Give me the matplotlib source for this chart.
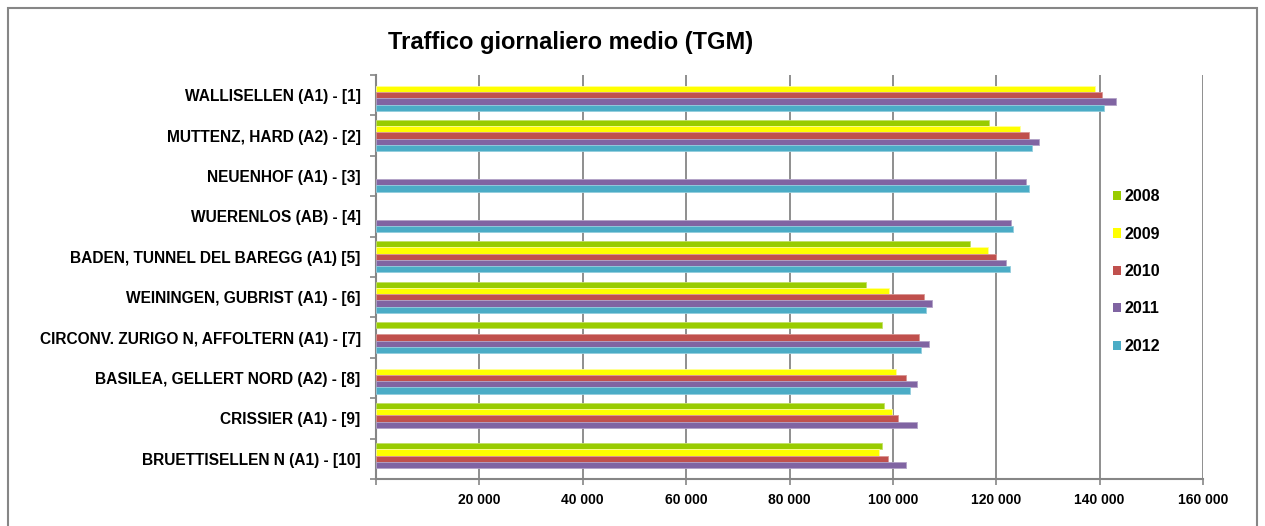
import numpy as np
import matplotlib
matplotlib.use("Agg")
import matplotlib.pyplot as plt
from matplotlib.patches import Patch, Rectangle

plt.rcParams['font.family'] = ['Liberation Sans', 'DejaVu Sans']

title = "Traffico giornaliero medio (TGM)"
categories = [
    "WALLISELLEN (A1) - [1]",
    "MUTTENZ, HARD (A2) - [2]",
    "NEUENHOF (A1) - [3]",
    "WUERENLOS (AB) - [4]",
    "BADEN, TUNNEL DEL BAREGG (A1) [5]",
    "WEININGEN, GUBRIST (A1) - [6]",
    "CIRCONV. ZURIGO N, AFFOLTERN (A1) - [7]",
    "BASILEA, GELLERT NORD (A2) - [8]",
    "CRISSIER (A1) - [9]",
    "BRUETTISELLEN N (A1) - [10]",
]
years = ["2008", "2009", "2010", "2011", "2012"]
nan = np.nan
v2008 = [nan, 118600, nan, nan, 114900, 94800, 97900, nan, 98300, 97900]
v2009 = [139100, 124600, nan, nan, 118400, 99200, nan, 100600, 99800, 97400]
v2010 = [140400, 126300, nan, nan, 120000, 106100, 105100, 102500, 100900, 99000]
v2011 = [143200, 128200, 125700, 122800, 121900, 107500, 106900, 104700, 104600, 102500]
v2012 = [140900, 127000, 126300, 123200, 122700, 106500, 105400, 103300, nan, nan]
series = [v2008, v2009, v2010, v2011, v2012]
colors = ["#99CC00", "#FFFF00", "#C0504D", "#8064A2", "#4BACC6"]
edges = ["#C2E066", "#FFFF99", "#D99694", "#B3A2C7", "#93CDDD"]
xticks = [0, 20000, 40000, 60000, 80000, 100000, 120000, 140000, 160000]
xticklabels = ["", "20 000", "40 000", "60 000", "80 000", "100 000", "120 000", "140 000", "160 000"]

W, H = 1265, 526
fig = plt.figure(figsize=(W / 100, H / 100), dpi=100)
ax = fig.add_axes([376 / W, 1 - 479 / H, (1203 - 376) / W, (479 - 75) / H])

n = len(categories)
k = len(series)
group_h = 1 / 1.3
bh = group_h / k
ypos = np.arange(n)
for i, (vals, c, e) in enumerate(zip(series, colors, edges)):
    y = ypos - group_h / 2 + bh * (i + 0.5)
    ax.barh(y, vals, height=bh, color=c, edgecolor=e, linewidth=0.6, label=years[i], zorder=3)

ax.set_ylim(n - 0.5, -0.5)
ax.set_xlim(0, 160000)
ax.set_yticks(np.arange(-0.5, n, 1.0))
ax.set_yticklabels([])
ax.set_yticks(ypos, minor=True)
ax.set_yticklabels(categories, minor=True, fontsize=11.2, fontweight='bold')
ax.tick_params(axis='y', which='minor', length=0, pad=11)
ax.tick_params(axis='y', which='major', length=4, width=1.2, color='#868686', direction='out')
ax.set_xticks(xticks)
ax.set_xticklabels(xticklabels, fontsize=10, fontweight='bold')
ax.tick_params(axis='x', length=4, width=1.2, color='#868686', direction='out', pad=6)
ax.grid(axis='x', color='#868686', linewidth=1.3, zorder=0)
for s in ['top', 'right']:
    ax.spines[s].set_visible(False)
for s in ['left', 'bottom']:
    ax.spines[s].set_color('#868686')
    ax.spines[s].set_linewidth(1.5)

fig.text(571 / W, 1 - 43 / H, title, ha='center', va='center', fontsize=17, fontweight='bold')

handles = [Patch(facecolor=c, edgecolor='none') for c in colors]
fig.legend(handles, years, loc='center left', bbox_to_anchor=(1113 / W, 1 - 271.5 / H),
           bbox_transform=fig.transFigure, frameon=False, borderpad=0, borderaxespad=0,
           handlelength=0.5, handleheight=0.5, handletextpad=0.2, labelspacing=1.4,
           prop={'size': 11.5, 'weight': 'bold'})

fig.patches.append(Rectangle((8 / W, -0.1), (1257 - 8) / W, 1.1 - 8 / H,
                             transform=fig.transFigure, fill=False,
                             edgecolor='#868686', linewidth=1.5))

fig.savefig("out.png", dpi=100)
